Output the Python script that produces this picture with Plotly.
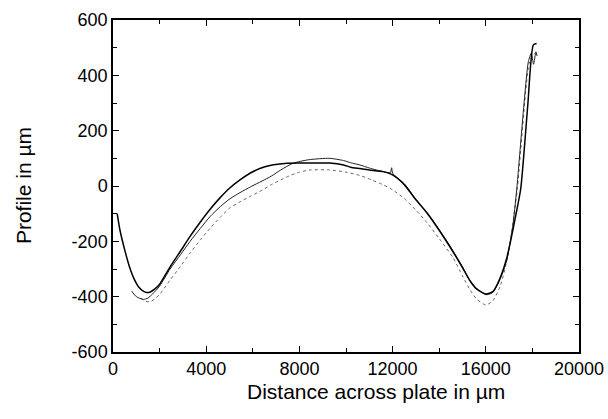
import plotly.graph_objects as go

# Curve A (thick solid)
xa = [180, 300, 500, 700, 900, 1100, 1300, 1450, 1600, 1800, 2000, 2450, 2900, 3300, 3750, 4160, 4600, 5000, 5450, 5880, 6300, 6740, 7470, 8000, 8600, 9300, 9900, 10200, 10600, 11000, 11600, 12000, 12500, 13000, 13500, 14000, 14500, 15000, 15300, 15600, 16000, 16300, 16600, 16900, 17100, 17300, 17500, 17800, 18040, 18180]
ya = [-100, -160, -230, -290, -335, -365, -380, -385, -383, -372, -355, -292, -235, -183, -130, -85, -42, -8, 22, 46, 63, 74, 82, 83, 83, 83, 76, 68, 63, 58, 52, 40, 5, -50, -100, -160, -225, -295, -340, -372, -390, -382, -335, -260, -185, -100, -10, 290, 510, 515]

# Curve B (thin solid)
xb = [800, 1000, 1300, 1500, 1700, 2000, 2450, 2900, 3300, 3750, 4160, 4600, 5020, 5450, 5900, 6400, 6800, 7200, 7725, 8400, 9300, 9900, 10200, 10600, 11000, 11600, 11900, 11960, 12000, 12500, 13000, 13500, 14000, 14500, 15000, 15300, 15600, 16000, 16300, 16600, 16900, 17150, 17325, 17825, 17950, 18050, 18150, 18200]
yb = [-380, -400, -410, -405, -390, -362, -300, -248, -201, -153, -111, -75, -46, -24, -3, 18, 36, 58, 82, 95, 100, 92, 84, 76, 65, 52, 48, 66, 46, 8, -48, -98, -158, -222, -292, -338, -370, -393, -385, -340, -268, -150, -14, 449, 480, 440, 485, 470]

# Curve C (dotted)
xc = [1200, 1400, 1600, 1800, 2000, 2450, 2900, 3300, 3750, 4160, 4600, 5020, 5450, 5880, 6400, 6800, 7200, 7600, 8000, 8455, 9300, 10000, 10600, 11100, 11600, 12000, 12500, 13030, 13500, 14000, 14600, 15000, 15320, 15600, 16000, 16300, 16610, 16850, 17050, 17200, 17350, 17850, 18000, 18100]
yc = [-405, -417, -418, -408, -392, -340, -290, -243, -195, -153, -113, -79, -57, -38, -15, 5, 22, 38, 50, 58, 58, 50, 38, 22, 4, -14, -45, -90, -135, -190, -260, -325, -375, -408, -430, -415, -364, -290, -200, -110, -14, 440, 470, 480]

x_ticks = [0, 4000, 8000, 12000, 16000, 20000]
y_ticks = [-600, -400, -200, 0, 200, 400, 600]

fig = go.Figure()
fig.add_trace(go.Scatter(x=xc, y=yc, mode="lines",
                         line=dict(color="#666666", width=1, dash="dot", shape="spline", smoothing=0.6)))
fig.add_trace(go.Scatter(x=xb, y=yb, mode="lines",
                         line=dict(color="#222222", width=1, shape="spline", smoothing=0.6)))
fig.add_trace(go.Scatter(x=xa, y=ya, mode="lines",
                         line=dict(color="#000000", width=1.5, shape="spline", smoothing=0.6)))

font_family = "Liberation Sans, Arial, sans-serif"
fig.update_layout(
    width=608, height=419,
    margin=dict(l=113, r=29, t=20, b=67),
    plot_bgcolor="white", paper_bgcolor="white",
    showlegend=False,
    font=dict(family=font_family, size=18, color="black"),
    xaxis=dict(range=[0, 20000], tickvals=x_ticks, ticktext=[str(v) for v in x_ticks],
               ticks="inside", ticklen=6, tickwidth=1.2, tickcolor="black",
               minor=dict(ticks="inside", dtick=2000, ticklen=4, tickwidth=1, tickcolor="black"),
               showline=True, linecolor="black", linewidth=1.5, mirror="allticks",
               showgrid=False, zeroline=False, tickfont=dict(size=18), automargin=False),
    yaxis=dict(range=[-600, 600], tickvals=y_ticks, ticktext=[str(v) for v in y_ticks],
               ticks="inside", ticklen=6, tickwidth=1.2, tickcolor="black",
               minor=dict(ticks="inside", dtick=100, ticklen=4, tickwidth=1, tickcolor="black"),
               showline=True, linecolor="black", linewidth=1.5, mirror="allticks",
               showgrid=False, zeroline=False, tickfont=dict(size=18), automargin=False),
    annotations=[
        dict(text="Distance across plate in µm", xref="paper", yref="paper",
             x=0.564, y=-0.1175, xanchor="center", yanchor="middle",
             showarrow=False, font=dict(size=21)),
        dict(text="Profile in µm", xref="paper", yref="paper", textangle=-90,
             x=-0.193, y=0.5, xanchor="center", yanchor="middle",
             showarrow=False, font=dict(size=21)),
    ],
)

fig.write_html("out.html", config={"displayModeBar": False},
               post_script="document.body.style.margin='0';document.body.style.overflow='hidden';")
